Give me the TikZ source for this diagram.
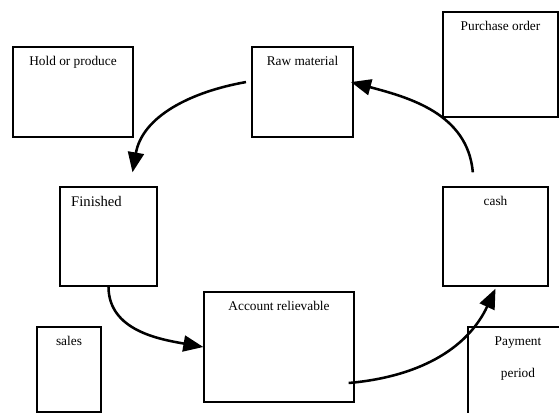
\documentclass[tikz,border=0pt]{standalone}
\usepackage{fontspec}
\setmainfont{Liberation Serif}
\usepackage{tikz}
\usetikzlibrary{arrows.meta,positioning}

\begin{document}
\begin{tikzpicture}[
    x=0.75pt, y=-0.75pt,
    box/.style={draw=black, line width=1pt, inner sep=0pt},
    title/.style={anchor=north, yshift=-4pt, font=\fontsize{10}{12}\selectfont},
    flow/.style={-{Triangle[length=15pt, width=12pt]}, line width=1.9pt},
]

% Canvas
\useasboundingbox (0,0) rectangle (559,413);
\clip (0,0) rectangle (559,413);

% Top row
\node[box, minimum width=90pt, minimum height=67.5pt,
      label={[title]north:Hold or produce}] (hold) at (73,92) {};
\node[box, minimum width=75.75pt, minimum height=67.5pt,
      label={[title]north:Raw material}] (raw) at (302.5,92) {};
\node[box, minimum width=86.25pt, minimum height=78.75pt,
      label={[title]north:Purchase order}] (purchase) at (500.5,64.5) {};

% Middle row
\node[box, minimum width=72.75pt, minimum height=74.25pt,
      label={[title, xshift=-9pt, font=\fontsize{11}{13}\selectfont]north:Finished}] (fin) at (108.5,236.5) {};
\node[box, minimum width=78.75pt, minimum height=74.25pt,
      label={[title]north:cash}] (cash) at (495.5,236.5) {};

% Bottom row
\node[box, minimum width=48pt, minimum height=63.75pt,
      label={[title]north:sales}] (sales) at (69,369.5) {};
\node[box, minimum width=112.5pt, minimum height=82.5pt,
      label={[title]north:Account relievable}] (acc) at (279,347) {};
\node[box, minimum width=75pt, minimum height=77.25pt,
      label={[title, align=center]north:Payment\\[12pt]period}] (pay) at (518,378.5) {};

% Cycle
\draw[flow] ([xshift=-4pt]raw.169) to[out=190, in=80] ([xshift=18pt, yshift=10.5pt]fin.north);
\draw[flow] (fin.south) to[out=-90, in=170] (acc.west);
\draw[flow] ([xshift=-4.5pt, yshift=-27pt]acc.east) to[out=5, in=-115] ([yshift=-1.5pt]cash.south);
\draw[flow] ([xshift=-17pt, yshift=10.5pt]cash.north) to[out=95, in=-15] ([xshift=-2pt]raw.11);

\end{tikzpicture}
\end{document}
